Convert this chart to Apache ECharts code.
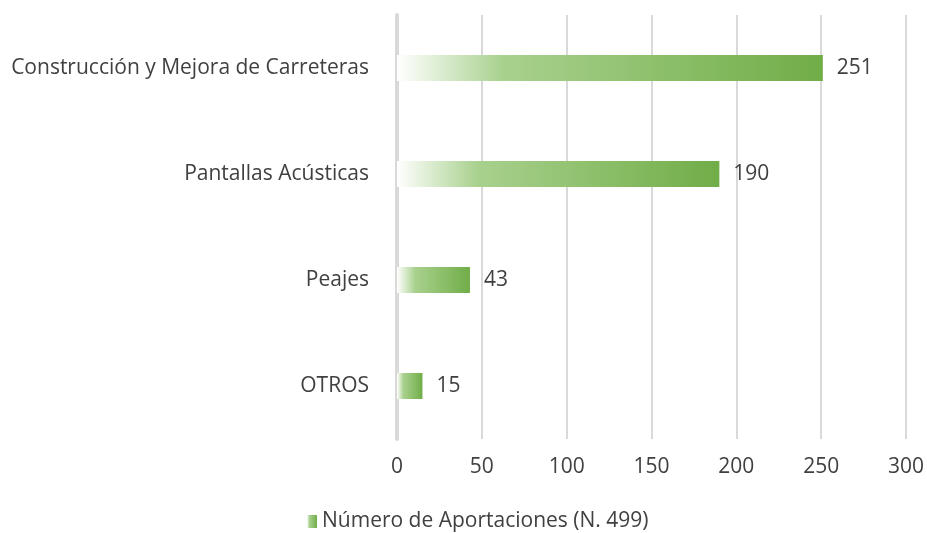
<!DOCTYPE html>
<html lang="es">
<head>
    <meta charset="UTF-8">
    <title>Aportaciones</title>
    <script src="https://cdn.jsdelivr.net/npm/echarts@6.0.0/dist/echarts.min.js"></script>
    <style>
        html, body { margin: 0; padding: 0; background: #fff; }
        #grafica { width: 927px; height: 533px; }
    </style>
</head>
<body>
    <div id="grafica"></div>
    <script>
        // datos
        let categorias = ['OTROS', 'Peajes', 'Pantallas Acústicas', 'Construcción y Mejora de Carreteras'];
        let aportaciones = [15, 43, 190, 251];
        let nombreSerie = 'Número de Aportaciones (N. 499)';

        let degradado = new echarts.graphic.LinearGradient(0, 0, 1, 0, [
            { offset: 0, color: 'rgba(255,255,255,1)' },
            { offset: 0.25, color: '#a9d18e' },
            { offset: 1, color: '#70ad47' }
        ]);
        let fuente = '"Open Sans", "Liberation Sans", sans-serif';

        let myChart = echarts.init(document.getElementById('grafica'));
        let option = {
            animation: false,
            textStyle: { fontFamily: fuente },
            grid: { left: 397, right: 21, top: 15, bottom: 94, containLabel: false },
            legend: {
                top: 511,
                left: 307,
                padding: 0,
                icon: 'rect',
                itemWidth: 10,
                itemHeight: 13,
                itemGap: 6,
                textStyle: { fontSize: 21, color: '#404040', fontFamily: fuente },
                data: [nombreSerie]
            },
            xAxis: {
                type: 'value',
                min: 0,
                max: 300,
                interval: 50,
                axisLine: { show: false },
                axisTick: { show: false },
                axisLabel: { fontSize: 21, color: '#404040', margin: 18, fontFamily: fuente },
                splitLine: { lineStyle: { color: '#d9d9d9', width: 2 } }
            },
            yAxis: {
                type: 'category',
                data: categorias,
                axisLine: { lineStyle: { color: '#d9d9d9', width: 4 } },
                axisTick: { show: false },
                axisLabel: { fontSize: 21, color: '#404040', margin: 28, fontFamily: fuente }
            },
            series: [
                {
                    name: nombreSerie,
                    type: 'bar',
                    data: aportaciones,
                    barWidth: 26,
                    itemStyle: { color: degradado },
                    label: {
                        show: true,
                        position: 'right',
                        distance: 14,
                        fontSize: 21,
                        color: '#404040',
                        fontFamily: fuente
                    }
                }
            ]
        };
        myChart.setOption(option);
    </script>
</body>
</html>
